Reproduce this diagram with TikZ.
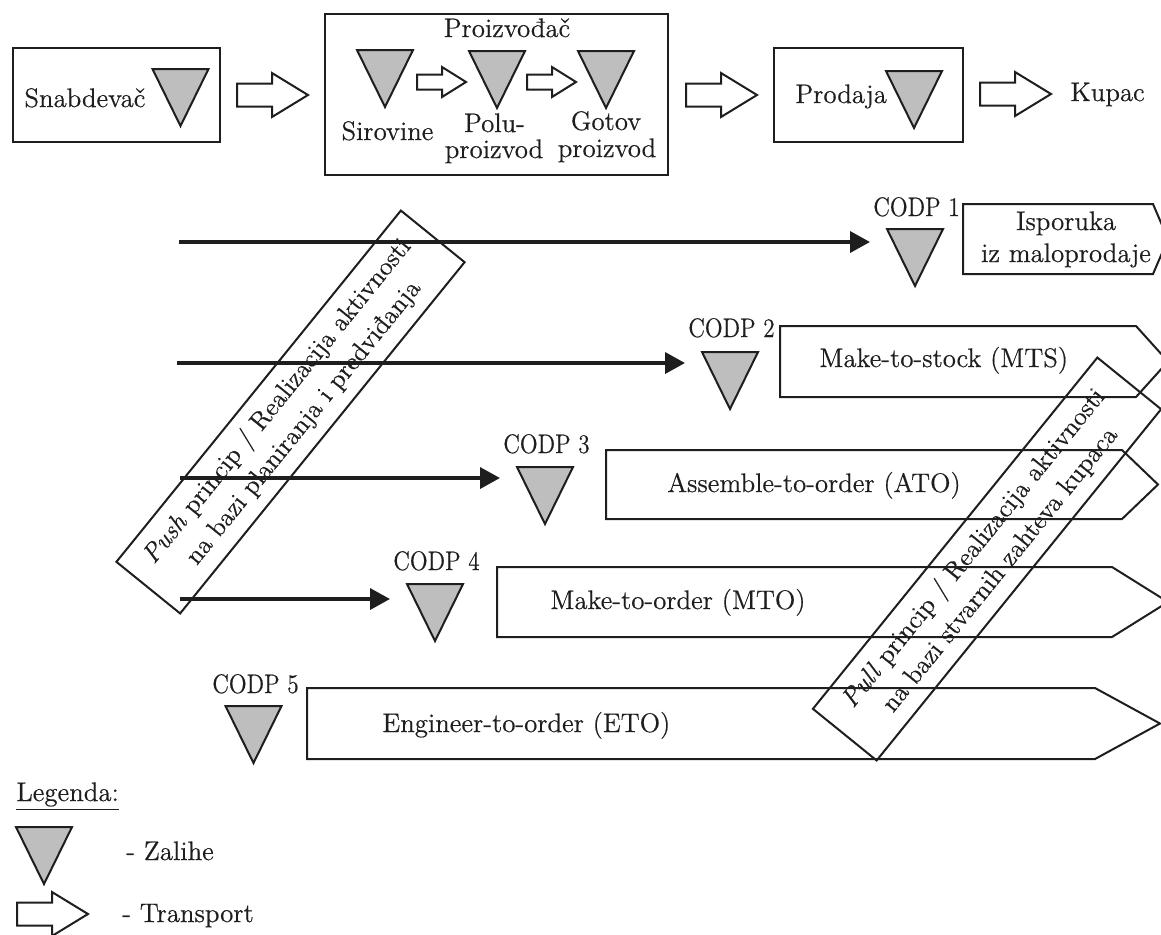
\documentclass[tikz,border=0pt]{standalone}
\usepackage{fontspec}
\setmainfont{Latin Modern Roman}[FakeBold=0.5]
\newfontfamily\codpfont{Latin Modern Roman}[FakeBold=0.5, FakeStretch=0.87]
\usetikzlibrary{arrows.meta,calc}

\definecolor{stockgray}{RGB}{190,190,190}
\definecolor{ink}{RGB}{30,30,30}

\tikzset{
  lbl/.style={font=\fontsize{13.4pt}{15pt}\selectfont, inner sep=0pt, text=ink},
  codp/.style={font=\codpfont\fontsize{13.4pt}{15pt}\selectfont, inner sep=0pt, text=ink},
  box/.style={draw=ink, line width=1pt},
  flow/.style={draw=ink, line width=1.8pt, -{Triangle[length=10pt,width=10.5pt]}},
  band/.style={draw=ink, line width=1pt, rotate=51, minimum width=226pt,
    minimum height=41pt, align=center, inner sep=0pt, text=ink,
    font=\fontsize{13pt}{17pt}\selectfont},
  pics/stock/.style={code={
    \draw[draw=ink, line width=1pt, fill=stockgray, line join=miter]
      (-28,0) -- (28,0) -- (0,57) -- cycle;
    \coordinate (-in) at (-45,12);
  }},
  pics/transport/.style={code={
    \draw[draw=ink, line width=1pt, fill=white]
      (0,-11.5) -- (35,-11.5) -- (35,-22) -- (71,0) -- (35,22)
      -- (35,11.5) -- (0,11.5) -- cycle;
  }},
  pics/smalltransport/.style={code={
    \draw[draw=ink, line width=1pt, fill=white]
      (0,-7.5) -- (25,-7.5) -- (25,-15) -- (49,0) -- (25,15)
      -- (25,7.5) -- (0,7.5) -- cycle;
  }},
}

\begin{document}
\begin{tikzpicture}[x=0.5pt,y=-0.5pt]
\useasboundingbox (0,0) rectangle (1161,934);
\clip (0,0) rectangle (1161,934);

% ---------- supply chain ----------
\draw[box] (13,48) rectangle (220,142);
\node[lbl, anchor=base west] (snab) at (24,107) {Snabdevač};
\pic (zsnab) at (180.5,69) {stock};

\pic (t1) at (237,95) {transport};

\draw[box] (325,14) rectangle (668,175);
\node[lbl, anchor=base] (proiz) at (507,37) {Proizvođač};
\pic (zsir) at (385,50) {stock};
\pic (ts1) at (417,82) {smalltransport};
\pic (zpolu) at (497,51) {stock};
\pic (ts2) at (527,82) {smalltransport};
\pic (zgot) at (606,51) {stock};
\node[lbl, anchor=base] (sir) at (387.5,140) {Sirovine};
\node[lbl, anchor=base] (polu1) at (494.5,132) {Polu-};
\node[lbl, anchor=base] (polu2) at (494,158) {proizvod};
\node[lbl, anchor=base] (got1) at (606,130) {Gotov};
\node[lbl, anchor=base] (got2) at (607,157) {proizvod};

\pic (t2) at (686,95) {transport};

\draw[box] (774,48) rectangle (963,142);
\node[lbl, anchor=base west] (prod) at (795,103) {Prodaja};
\pic (zprod) at (914,71) {stock};

\pic (t3) at (980,94) {transport};
\node[lbl, anchor=base west] (kupac) at (1070,101) {Kupac};

% ---------- decoupling points ----------
\node[codp, anchor=base west] (codp1) at (873,216) {CODP 1};
\pic (c1) at (915,229) {stock};
\draw[box] (963,204) -- (1153,204) -- (1168,239) -- (1153,274) -- (963,274) -- cycle;
\node[lbl, anchor=base] (ispa) at (1066,230) {Isporuka};
\node[lbl, anchor=base] (ispb) at (1066,262) {iz maloprodaje};

\node[codp, anchor=base west] (codp2) at (688,337) {CODP 2};
\pic (c2) at (730,352) {stock};
\draw[box] (780,326) -- (1136,326) -- (1168,361.5) -- (1136,397) -- (780,397) -- cycle;
\node[lbl, anchor=base west] (mts) at (819,367) {Make-to-stock (MTS)};

\node[codp, anchor=base west] (codp3) at (503,453) {CODP 3};
\pic (c3) at (545,467) {stock};
\draw[box] (606,450) -- (1122,450) -- (1158,484.5) -- (1122,519) -- (606,519) -- cycle;
\node[lbl, anchor=base west] (ato) at (667,492) {Assemble-to-order (ATO)};

\node[codp, anchor=base west] (codp4) at (393,570) {CODP 4};
\pic (c4) at (435,584) {stock};
\draw[box] (497,567) -- (1112,567) -- (1168,602) -- (1112,637) -- (497,637) -- cycle;
\node[lbl, anchor=base west] (mto) at (550,609) {Make-to-order (MTO)};

\node[codp, anchor=base west] (codp5) at (212,693) {CODP 5};
\pic (c5) at (253.5,706) {stock};
\draw[box] (307,688) -- (1095,688) -- (1160,723.5) -- (1095,759) -- (307,759) -- cycle;
\node[lbl, anchor=base west] (eto) at (382,732) {Engineer-to-order (ETO)};

% ---------- push flows ----------
\coordinate (s1) at (179,242);
\coordinate (s2) at (177,363);
\coordinate (s3) at (180,478);
\coordinate (s4) at (180,599);
\draw[flow] (s1) -- (s1 -| c1-in);
\draw[flow] (s2) -- (s2 -| c2-in);
\draw[flow] (s3) -- (s3 -| c3-in);
\draw[flow] (s4) -- (s4 -| c4-in);

% ---------- push / pull bands ----------
\node[band] (push) at (290.5,412)
  {\textit{Push} princip / Realizacija aktivnosti\\na bazi planiranja i predviđanja};
\node[band] (pull) at (987,559)
  {\textit{Pull} princip / Realizacija aktivnosti\\na bazi stvarnih zahteva kupaca};

% ---------- legend ----------
\node[lbl, anchor=base west] (leg) at (16,801) {\underline{Legenda:}};
\pic (lz) at (44,827) {stock};
\node[lbl, anchor=base west] (lzt) at (126,860) {- Zalihe};
\pic (lt) at (17,914) {transport};
\node[lbl, anchor=base west] (ltt) at (122,922) {- Transport};
\end{tikzpicture}
\end{document}
